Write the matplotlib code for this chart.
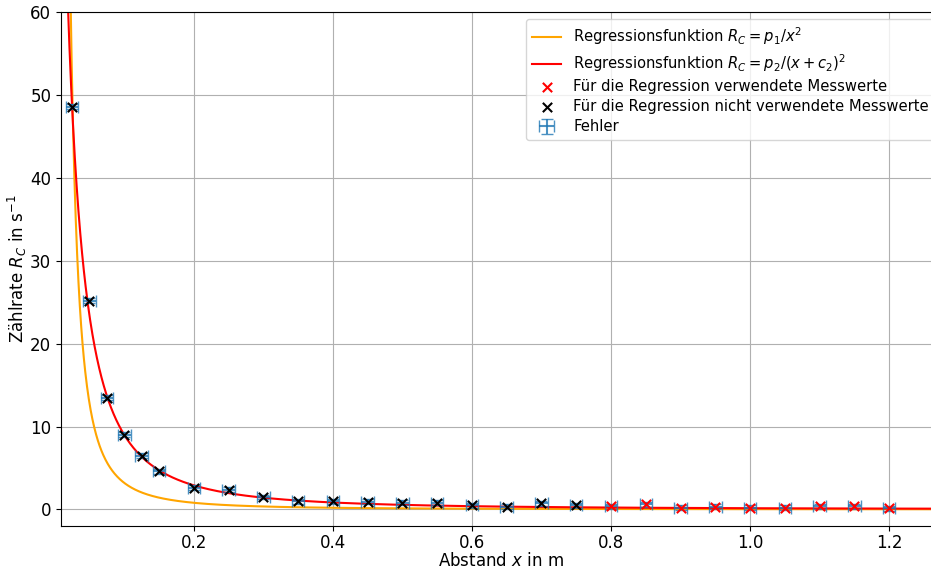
import numpy as np
import matplotlib.pyplot as plt

# -----------------------------
# MESSWERTE (aus dem Bild abgelesen)
# -----------------------------
abstand = [0.025, 0.05, 0.075, 0.1, 0.125, 0.15, 0.2, 0.25, 0.3, 0.35, 0.4,
           0.45, 0.5, 0.55, 0.6, 0.65, 0.7, 0.75, 0.8, 0.85, 0.9, 0.95,
           1.0, 1.05, 1.1, 1.15, 1.2]
rate = [48.6, 25.2, 13.5, 9.0, 6.5, 4.6, 2.6, 2.4, 1.5, 1.0, 1.0,
        0.9, 0.8, 0.8, 0.52, 0.32, 0.77, 0.48, 0.4, 0.64, 0.2, 0.32,
        0.2, 0.2, 0.4, 0.4, 0.16]
x_fehler = 0.009
y_fehler = 0.3

# ab x = 0.8 m fuer die Regression verwendet
grenze = 0.8

# Parameter der Regressionsfunktionen
p1 = 0.032
p2 = 0.156
c2 = 0.0317

x = np.array(abstand)
y = np.array(rate)
used = x >= grenze - 1e-9

xs = np.linspace(0.005, 1.3, 2000)

plt.rcParams['font.size'] = 12
plt.rcParams['xtick.labelsize'] = 12
plt.rcParams['ytick.labelsize'] = 12
plt.rcParams['xtick.major.pad'] = 2.5

fig = plt.figure(figsize=(9.31, 5.71), dpi=100)
# rechter Rand liegt etwas ausserhalb des Bildes (wie im Original)
ax = fig.add_axes([0.0655, 0.0788, 0.9463, 0.900])

ax.plot(xs, p1 / xs**2, color='orange', label=r'Regressionsfunktion $R_C = p_1/x^2$')
ax.plot(xs, p2 / (xs + c2)**2, color='red', label=r'Regressionsfunktion $R_C = p_2/(x+c_2)^2$')
ax.scatter(x[used], y[used], marker='x', color='red', s=45,
           label='Für die Regression verwendete Messwerte', zorder=3)
ax.scatter(x[~used], y[~used], marker='x', color='black', s=45,
           label='Für die Regression nicht verwendete Messwerte', zorder=3)
ax.errorbar(x, y, xerr=x_fehler, yerr=y_fehler, fmt='none', ecolor='C0',
            capsize=4, elinewidth=1.5, alpha=0.8, label='Fehler', zorder=2)

ax.set_xlim(0.009, 1.276)
ax.set_ylim(-2, 60)
ax.set_xticks([0.2, 0.4, 0.6, 0.8, 1.0, 1.2])
ax.set_yticks([0, 10, 20, 30, 40, 50, 60])
ax.grid(True)
ax.set_xlabel(r'Abstand $x$ in m', labelpad=-0.5)
ax.set_ylabel(r'Zählrate $R_C$ in s$^{-1}$', labelpad=1)
ax.legend(loc='upper right', fontsize=10.6, labelspacing=0.35)

plt.savefig('out.png', dpi=100)
